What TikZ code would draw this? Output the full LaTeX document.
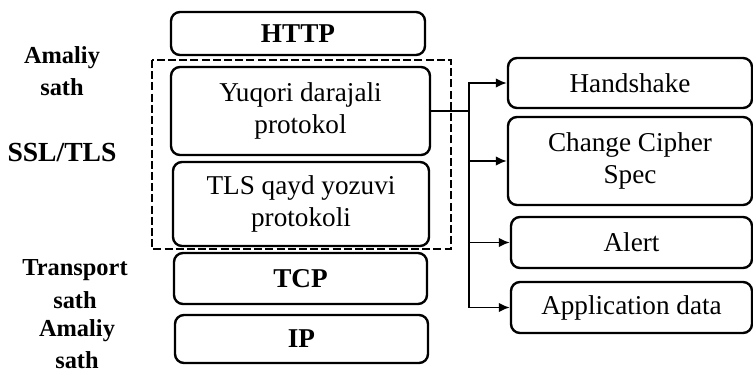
\documentclass[tikz,border=0pt]{standalone}
\usepackage{fontspec}
\setmainfont{Liberation Serif}
\usetikzlibrary{arrows.meta}

\begin{document}
\begin{tikzpicture}[
    x=0.5pt, y=-0.5pt,
    font=\fontsize{13.6}{16.2}\selectfont,
    flow/.style={-{Latex[length=5.5pt,width=4.8pt]}, line width=0.9pt},
    link/.style={line width=0.9pt},
    % Box styles
    layer/.style={draw, rounded corners=4.5pt, line width=1.2pt, align=center, inner sep=0pt},
    heavy/.style={font=\fontsize{13.6}{16}\selectfont\bfseries},
    group/.style={draw, dash pattern=on 4pt off 1.6pt, line width=1.2pt},
    % Labels on the left
    side/.style={font=\fontsize{12.2}{16.3}\selectfont\bfseries, align=center}
]
\useasboundingbox (0,0) rectangle (753,374);

% --- Protocol stack ---
\node[layer, heavy, minimum width=127pt, minimum height=21.5pt] (http) at (298,33.5) {HTTP};
\node[layer, minimum width=129.5pt, minimum height=44pt] (upper) at (300.5,111) {Yuqori darajali\\protokol};
\node[layer, minimum width=128pt, minimum height=42pt] (record) at (301,204) {TLS qayd yozuvi\\protokoli};
\node[layer, heavy, minimum width=126.5pt, minimum height=25.5pt] (tcp) at (300.5,278.5) {TCP};
\node[layer, heavy, minimum width=126.5pt, minimum height=24pt] (ip) at (301.5,339) {IP};

\draw[group] (152,60) rectangle (451,249);

% --- Left labels ---
\node[side] (app1) at (62,71) {Amaliy\\sath};
\node[side, font=\fontsize{13.8}{16}\selectfont\bfseries] (ssl) at (62,152) {SSL/TLS};
\node[side] (transport) at (75,284) {Transport\\sath};
\node[side] (app2) at (77,344) {Amaliy\\sath};

% --- Sub-protocols ---
\node[layer, minimum width=122pt, minimum height=25pt] (handshake) at (630,83) {Handshake};
\node[layer, minimum width=122pt, minimum height=44pt] (cipher) at (630,161) {Change Cipher\\Spec};
\node[layer, minimum width=120.5pt, minimum height=25.5pt] (alert) at (631.5,242.5) {Alert};
\node[layer, minimum width=120.5pt, minimum height=25.5pt] (appdata) at (631.5,307.5) {Application data};

\coordinate (branch) at (469,111);
\draw[link] (upper.east) -- (branch);
\draw[flow] (branch) |- (handshake.west);
\draw[flow] (branch) |- (cipher.west);
\draw[flow] (branch) |- (alert.west);
\draw[flow] (branch) |- (appdata.west);

\end{tikzpicture}
\end{document}
